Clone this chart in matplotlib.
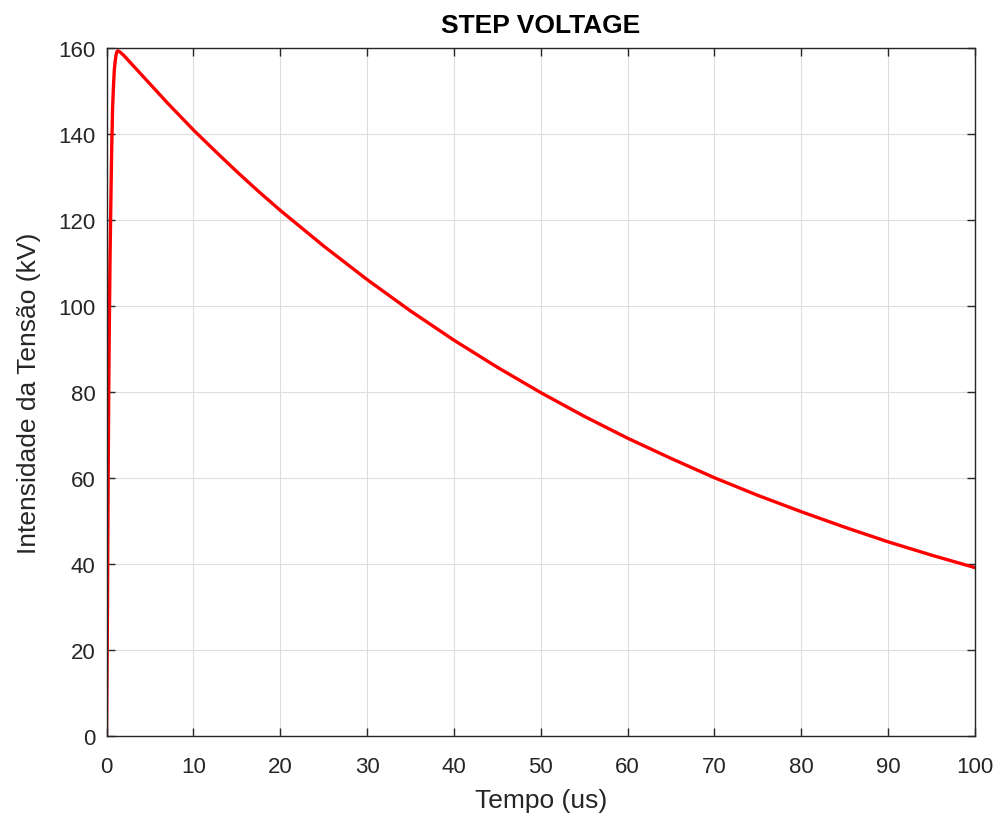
import matplotlib
matplotlib.use("Agg")
import matplotlib.pyplot as plt

plt.rcParams["font.family"] = ["Liberation Sans", "DejaVu Sans"]

# tempo (us) e tensão (kV)
tempo = [0, 0.05, 0.1, 0.15, 0.2, 0.25, 0.3, 0.35, 0.4, 0.5, 0.6, 0.7, 0.8,
         0.9, 1.0, 1.1, 1.2, 1.3, 1.5, 2, 2.5, 3, 4, 5, 6, 7, 8, 9, 10, 12.5, 15,
         17.5, 20, 25, 30, 35, 40, 45, 50, 55, 60, 65, 70, 75, 80, 85, 90, 95, 100]
tensao = [0, 12, 25, 45, 62, 78, 90, 100, 110, 124, 137, 146, 151,
          155, 157, 158.4, 159.2, 159.4, 159.2, 158.3, 157.2, 156.1, 153.9, 151.7, 149.5, 147.3, 145.2, 143.1, 141.0, 136.1, 131.3,
          126.7, 122.3, 114.0, 106.2, 98.9, 92.1, 85.8, 79.9, 74.4, 69.3, 64.6, 60.1, 56.0, 52.2, 48.6, 45.2, 42.1, 39.2]

cinza = "#262626"

fig = plt.figure(figsize=(10, 8.2), dpi=100)
ax = fig.add_axes([0.1065, 0.101, 0.8685, 0.839])

ax.plot(tempo, tensao, color="red", linewidth=2.4)

ax.set_xlim(0, 100)
ax.set_ylim(0, 160)
ax.set_xticks(range(0, 101, 10))
ax.set_yticks(range(0, 161, 20))

ax.grid(True, color="#dedede", linewidth=0.8)
ax.set_axisbelow(True)
ax.tick_params(direction="in", length=6, width=1, colors=cinza,
               labelsize=16, top=True, right=True, labeltop=False, labelright=False)
ax.tick_params(axis="x", pad=14)
ax.tick_params(axis="y", pad=8)
for s in ax.spines.values():
    s.set_color(cinza)
    s.set_linewidth(1)

ax.set_xlabel("Tempo (us)", fontsize=19, color=cinza, labelpad=8)
ax.set_ylabel("Intensidade da Tensão (kV)", fontsize=19, color=cinza, labelpad=12)
ax.set_title("STEP VOLTAGE", fontsize=19, fontweight="bold", color="black", pad=12)

fig.savefig("out.png", dpi=100)
